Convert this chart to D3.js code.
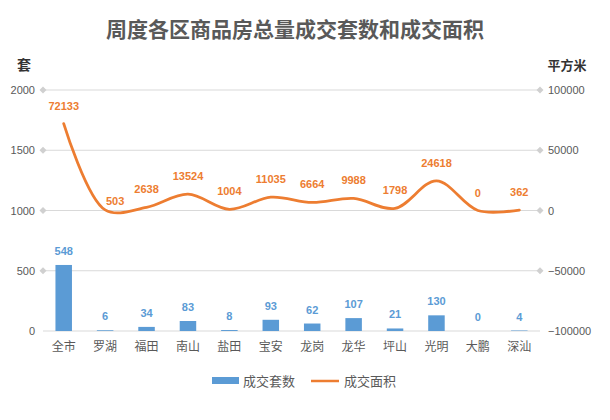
<!DOCTYPE html>
<html><head><meta charset="utf-8">
<script src="https://cdn.jsdelivr.net/npm/d3@7/dist/d3.min.js"></script>
<style>body{margin:0;background:#fff;}svg{display:block;font-family:"Liberation Sans","Noto Sans CJK SC",sans-serif;}</style>
</head><body>
<svg id="c" width="610" height="420"></svg>
<script>
const categories = ["全市","罗湖","福田","南山","盐田","宝安","龙岗","龙华","坪山","光明","大鹏","深汕"];
const units = [548, 6, 34, 83, 8, 93, 62, 107, 21, 130, 0, 4];
const area = [72133, 503, 2638, 13524, 1004, 11035, 6664, 9988, 1798, 24618, 0, 362];
const leftTicks = [0, 500, 1000, 1500, 2000];
const rightTicks = [-100000, -50000, 0, 50000, 100000];
const title = "周度各区商品房总量成交套数和成交面积";
const seriesNames = ["成交套数", "成交面积"];

const svg = d3.select("#c");
const L = 43, R = 540, T = 90, B = 331;
const x = d3.scaleBand().domain(categories).range([L, R]);
const yL = d3.scaleLinear().domain([0, 2000]).range([B, T]);
const yR = d3.scaleLinear().domain([-100000, 100000]).range([B, T]);
const blue = "#5b9bd5", orange = "#ed7d31", txt = "#595959";
const cjk = "'Noto Sans CJK SC',sans-serif";

svg.append("text").attr("x", 295).attr("y", 37).attr("text-anchor", "middle")
  .attr("font-family", cjk)
  .attr("font-size", 21).attr("font-weight", "bold").attr("fill", txt).text(title);

// gridlines
svg.append("g").selectAll("line").data(leftTicks).join("line")
  .attr("x1", L).attr("x2", R).attr("y1", d => yL(d)).attr("y2", d => yL(d))
  .attr("stroke", "#d9d9d9").attr("stroke-width", 1);

// diamonds
const dia = (cx, cy) => `M${cx},${cy-3.5}L${cx+3.5},${cy}L${cx},${cy+3.5}L${cx-3.5},${cy}Z`;
svg.append("g").selectAll("path").data(leftTicks.filter(d => d > 0)).join("path")
  .attr("d", d => dia(L, yL(d))).attr("fill", "#d0d0d0");
svg.append("g").selectAll("path").data(rightTicks.filter(d => d > -100000)).join("path")
  .attr("d", d => dia(R, yR(d))).attr("fill", "#d0d0d0");

// axis labels
svg.append("g").selectAll("text").data(leftTicks).join("text")
  .attr("x", 35).attr("y", d => yL(d) + 4).attr("text-anchor", "end")
  .attr("font-size", 11).attr("fill", txt).text(d => d);
svg.append("g").selectAll("text").data(rightTicks).join("text")
  .attr("x", 548).attr("y", d => yR(d) + 4).attr("text-anchor", "start")
  .attr("font-size", 11).attr("fill", txt).text(d => d < 0 ? "−" + Math.abs(d) : d);

svg.append("text").attr("x", 24).attr("y", 70).attr("text-anchor", "middle").attr("font-family", cjk)
  .attr("font-size", 14).attr("font-weight", "bold").attr("fill", "#333").text("套");
svg.append("text").attr("x", 567).attr("y", 70).attr("text-anchor", "middle").attr("font-family", cjk)
  .attr("font-size", 13).attr("font-weight", "bold").attr("fill", "#333").text("平方米");

// category labels
svg.append("g").selectAll("text").data(categories).join("text")
  .attr("x", d => x(d) + x.bandwidth() / 2).attr("y", 351).attr("text-anchor", "middle")
  .attr("font-family", cjk)
  .attr("font-size", 12).attr("fill", txt).text(d => d);

// bars
const bw = 16.5;
svg.append("g").selectAll("rect").data(units).join("rect")
  .attr("x", (d, i) => x(categories[i]) + x.bandwidth() / 2 - bw / 2)
  .attr("y", d => yL(d)).attr("width", bw).attr("height", d => B - yL(d))
  .attr("fill", blue);
svg.append("g").selectAll("text").data(units).join("text")
  .attr("x", (d, i) => x(categories[i]) + x.bandwidth() / 2)
  .attr("y", d => yL(d) - 10).attr("text-anchor", "middle")
  .attr("font-size", 11).attr("font-weight", "bold").attr("fill", blue).text(d => d);

// line
const line = d3.line().x((d, i) => x(categories[i]) + x.bandwidth() / 2).y(d => yR(d))
  .curve(d3.curveCatmullRom.alpha(0.5));
svg.append("path").datum(area).attr("d", line).attr("fill", "none")
  .attr("stroke", orange).attr("stroke-width", 2.8).attr("stroke-linecap", "round");
const offs = {1: [10, -5]};
svg.append("g").selectAll("text").data(area).join("text")
  .attr("x", (d, i) => x(categories[i]) + x.bandwidth() / 2 + (offs[i] ? offs[i][0] : 0))
  .attr("y", (d, i) => yR(d) + (offs[i] ? offs[i][1] : -14)).attr("text-anchor", "middle")
  .attr("font-size", 11).attr("font-weight", "bold").attr("fill", orange).text(d => d);

// legend
const lg = svg.append("g").attr("font-family", cjk);
lg.append("rect").attr("x", 212).attr("y", 377).attr("width", 27).attr("height", 7).attr("fill", blue);
lg.append("text").attr("x", 243).attr("y", 385.5).attr("font-size", 13).attr("fill", txt).text(seriesNames[0]);
lg.append("line").attr("x1", 311).attr("x2", 339).attr("y1", 381).attr("y2", 381)
  .attr("stroke", orange).attr("stroke-width", 2.5);
lg.append("text").attr("x", 344).attr("y", 385.5).attr("font-size", 13).attr("fill", txt).text(seriesNames[1]);
</script>
</body></html>
